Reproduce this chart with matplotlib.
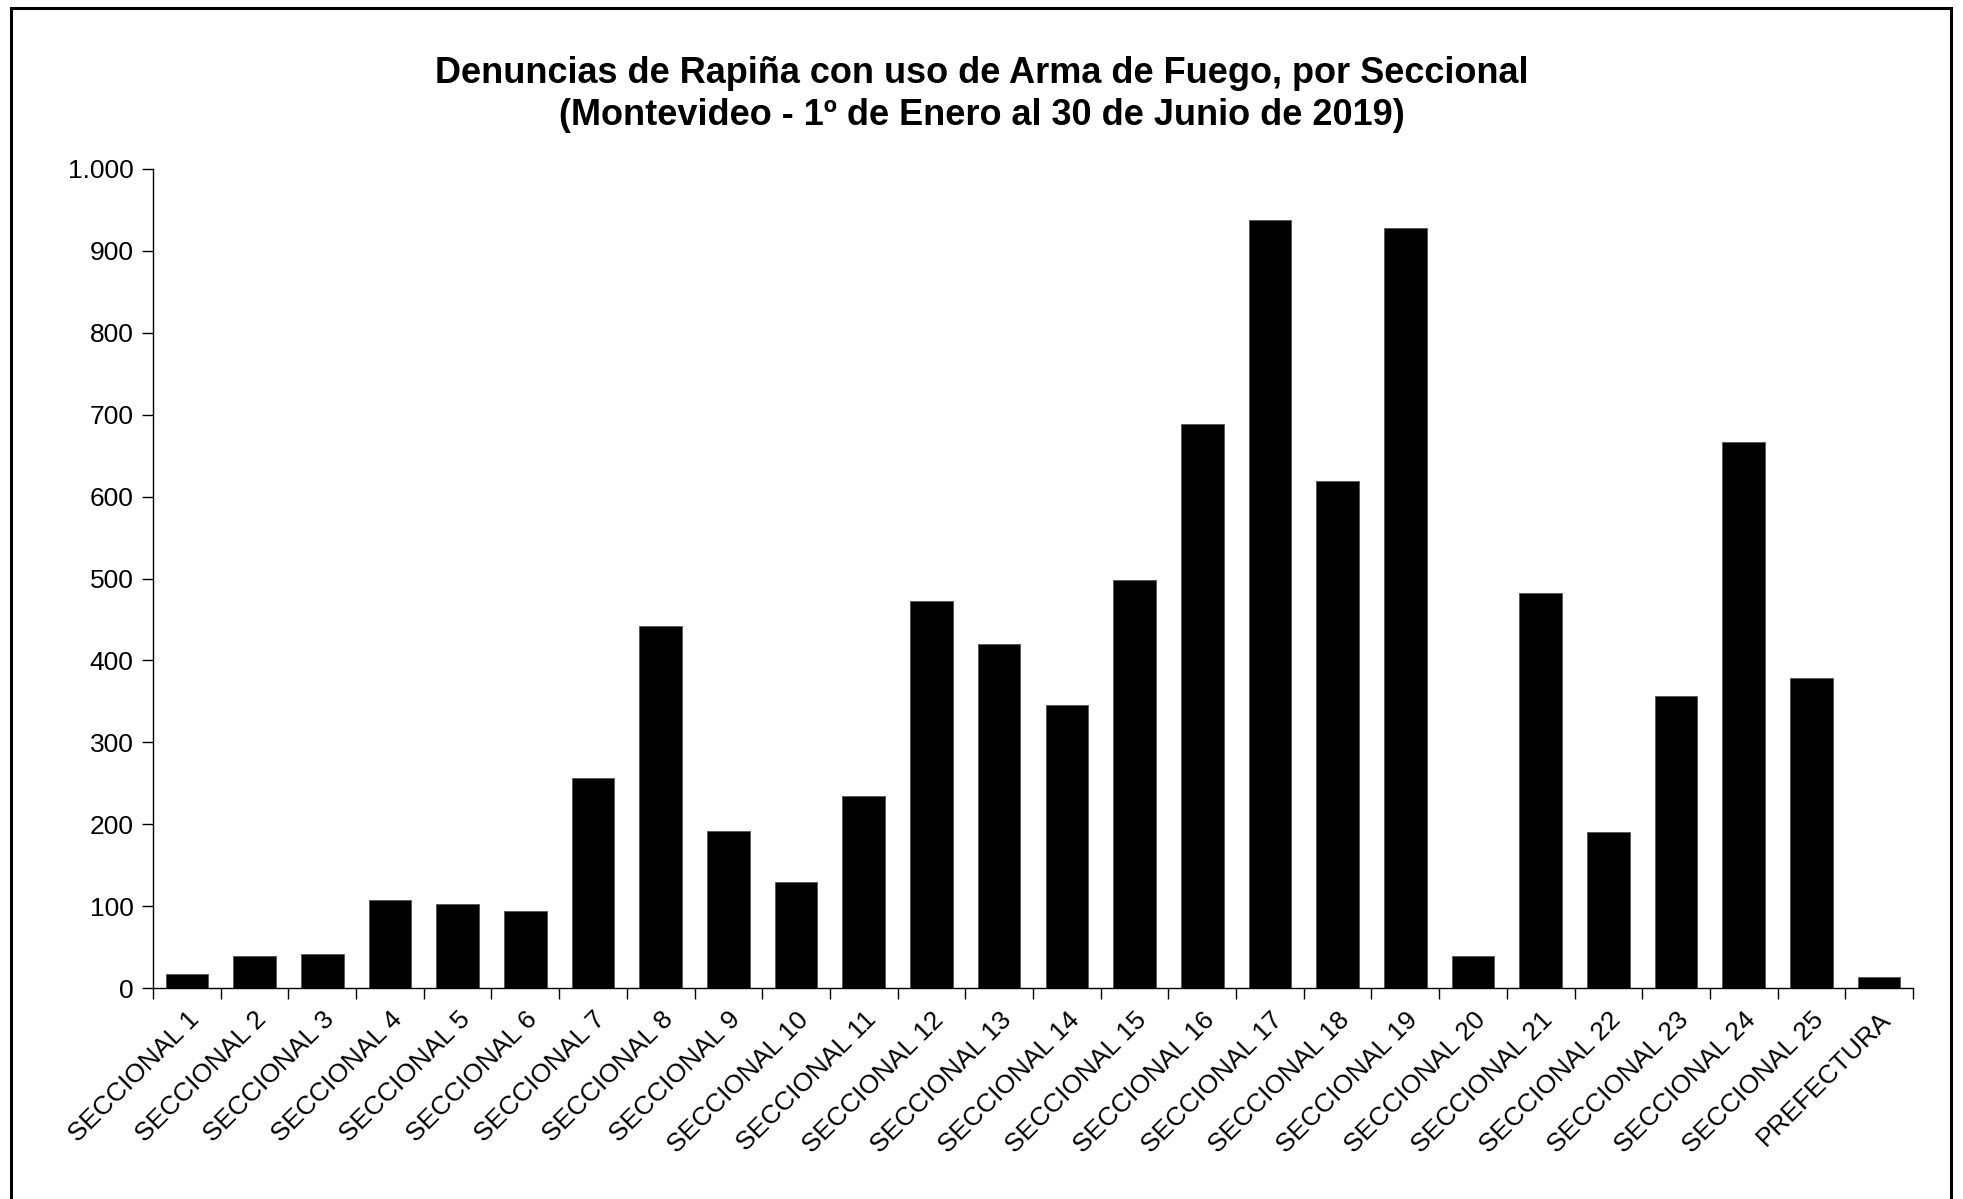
import numpy as np
import matplotlib
matplotlib.use("Agg")
import matplotlib.pyplot as plt
from matplotlib.ticker import FixedLocator, FuncFormatter
from matplotlib.patches import Rectangle

plt.rcParams['font.family'] = ['Liberation Sans', 'DejaVu Sans']

# data
categories = [f"SECCIONAL {i}" for i in range(1, 26)] + ["PREFECTURA"]
values = [17, 39, 42, 107, 102, 94, 256, 442, 192, 130, 235, 473, 420,
          346, 498, 689, 938, 619, 928, 39, 482, 190, 356, 667, 378, 14]
y_ticks = list(range(0, 1001, 100))

title = ("Denuncias de Rapiña con uso de Arma de Fuego, por Seccional\n"
         "(Montevideo - 1º de Enero al 30 de Junio de 2019)")

fig = plt.figure(figsize=(19.63, 11.99), dpi=100, facecolor="white")
ax = fig.add_axes([153 / 1963, 211 / 1199, (1913 - 153) / 1963, 819 / 1199])

x = np.arange(len(categories))
ax.bar(x, values, width=0.63, color="black", edgecolor="#555555", linewidth=0.6)

ax.set_xlim(-0.5, len(categories) - 0.5)
ax.set_ylim(0, 1000)

# y axis
ax.set_yticks(y_ticks)
ax.yaxis.set_major_formatter(FuncFormatter(lambda v, p: f"{int(v):,}".replace(",", ".")))
ax.tick_params(axis="y", length=8, width=1, labelsize=19, pad=6, direction="out")

# x axis: ticks on category boundaries, labels at centres
ax.xaxis.set_major_locator(FixedLocator(np.arange(len(categories) + 1) - 0.5))
ax.xaxis.set_major_formatter(FuncFormatter(lambda v, p: ""))
ax.xaxis.set_minor_locator(FixedLocator(x))
ax.set_xticklabels(categories, minor=True, rotation=45, ha="right",
                   rotation_mode="anchor", fontsize=19)
ax.tick_params(axis="x", which="major", length=8, width=1, direction="out")
ax.tick_params(axis="x", which="minor", length=0, pad=14)

for side in ["top", "right"]:
    ax.spines[side].set_visible(False)
for side in ["left", "bottom"]:
    ax.spines[side].set_linewidth(1)

fig.text(0.5, 0.921, title, ha="center", va="center", fontsize=26,
         fontweight="bold", linespacing=1.25)

# outer frame (bottom edge cut off in the original)
frame = Rectangle((11 / 1963, -0.05), (1951 - 11) / 1963, 1.05 - 8 / 1199,
                  transform=fig.transFigure, fill=False, edgecolor="black",
                  linewidth=2.2)
fig.patches.append(frame)

fig.savefig("out.png", dpi=100, facecolor="white")
